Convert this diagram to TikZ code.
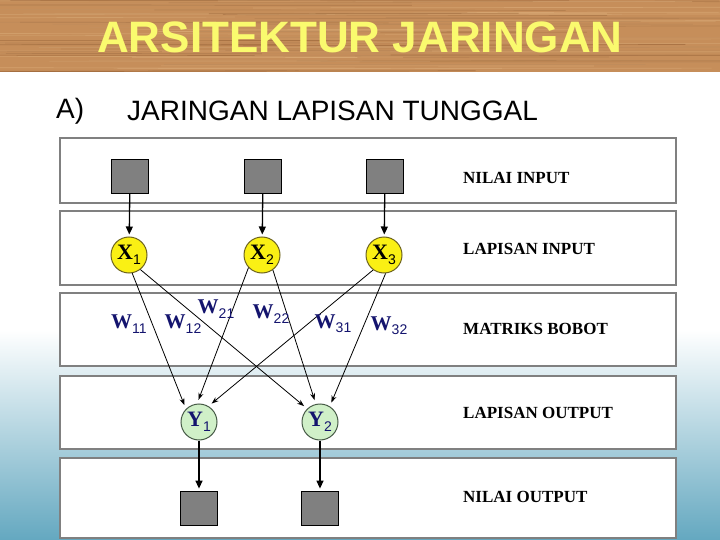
\documentclass[tikz,border=0pt]{standalone}
\usepackage{fontspec}
\setmainfont{Liberation Serif}
\newfontfamily\arialfont{Liberation Sans}
\usetikzlibrary{arrows.meta, positioning, calc}

\definecolor{wood}{RGB}{198,142,90}
\definecolor{woodlight}{RGB}{226,180,128}
\definecolor{wooddark}{RGB}{150,96,52}
\definecolor{titleyellow}{RGB}{250,250,110}
\definecolor{sky}{RGB}{100,168,192}
\definecolor{navy}{RGB}{20,20,110}
\definecolor{boxgray}{RGB}{128,128,128}
\definecolor{xfill}{RGB}{250,240,20}
\definecolor{xline}{RGB}{110,100,30}
\definecolor{yfill}{RGB}{208,240,200}
\definecolor{yline}{RGB}{70,90,70}

% letter with a sans subscript, as on the slide
\newcommand{\sublbl}[2]{#1\raisebox{-0.45ex}{\arialfont\mdseries\fontsize{14}{14}\selectfont#2}}

\begin{document}
\begin{tikzpicture}[
    x=1pt, y=-1pt,
    >=Stealth,
    panel/.style={draw=boxgray, line width=1.5pt, fill=white},
    layer/.style={anchor=west, inner sep=0pt, font=\bfseries\fontsize{17}{17}\selectfont},
    valbox/.style={rectangle, draw=black, fill=boxgray, line width=0.8pt, minimum width=37pt, minimum height=34pt, inner sep=0pt},
    xnode/.style={circle, draw=xline, fill=xfill, line width=1pt, minimum size=36pt, inner sep=0pt, font=\bfseries\fontsize{22}{22}\selectfont},
    ynode/.style={circle, draw=yline, fill=yfill, line width=1pt, minimum size=36pt, inner sep=0pt, text=navy, font=\bfseries\fontsize{22}{22}\selectfont},
    wlbl/.style={inner sep=0pt, text=navy, font=\bfseries\fontsize{21}{21}\selectfont},
    feed/.style={line width=1.3pt, -{Triangle[length=8pt,width=7pt]}, shorten >=2pt},
    edge/.style={line width=0.8pt, -{Stealth[length=7pt,width=5pt]}, shorten >=4pt},
]
    \useasboundingbox (0,0) rectangle (720,540);

    % background
    \fill[white] (0,0) rectangle (720,540);
    \shade[top color=white, bottom color=sky] (0,330) rectangle (720,540);

    % wooden header
    \fill[wood] (0,0) rectangle (720,72);
    \pgfmathsetseed{11}
    \foreach \i in {1,...,90}{
        \pgfmathsetmacro{\yy}{rnd*72}
        \pgfmathsetmacro{\xa}{rnd*620-100}
        \pgfmathsetmacro{\mx}{int(rnd*100)}
        \draw[woodlight!\mx!wooddark, line width=0.7pt, opacity=0.6] (\xa,\yy) -- ++(rnd*400+200, rnd*2-1);
    }
    \node[text=titleyellow, font=\arialfont\bfseries\fontsize{44}{44}\selectfont] (title) at (360,37) {ARSITEKTUR JARINGAN};

    \node[anchor=west, inner sep=0pt, font=\arialfont\fontsize{28}{28}\selectfont] (sec) at (56,111) {A)};
    \node[anchor=west, inner sep=0pt, font=\arialfont\fontsize{28}{28}\selectfont] (subtitle) at (127,111) {JARINGAN LAPISAN TUNGGAL};

    % panels
    \foreach \t/\b in {138/203, 211/285, 293/366, 376/449, 458/538}
        \draw[panel] (60,\t) rectangle (676,\b);

    \node[layer] (lab1) at (463,178) {NILAI INPUT};
    \node[layer] (lab2) at (463,249) {LAPISAN INPUT};
    \node[layer] (lab3) at (463,329) {MATRIKS BOBOT};
    \node[layer] (lab4) at (463,413) {LAPISAN OUTPUT};
    \node[layer] (lab5) at (463,497) {NILAI OUTPUT};

    % input values and input layer
    \node[valbox] (in1) at (130,176) {};
    \node[valbox] (in2) at (263,176) {};
    \node[valbox] (in3) at (385,176) {};

    \node[xnode] (X1) at (129,255) {\sublbl{X}{1}};
    \node[xnode] (X2) at (262,255) {\sublbl{X}{2}};
    \node[xnode] (X3) at (384,255) {\sublbl{X}{3}};

    % output layer and output values
    \node[ynode] (Y1) at (199,422) {\sublbl{Y}{1}};
    \node[ynode] (Y2) at (320,422) {\sublbl{Y}{2}};

    \node[valbox] (out1) at (199,508) {};
    \node[valbox] (out2) at (320,508) {};

    \draw[feed] (in1) -- (X1);
    \draw[feed] (in2) -- (X2);
    \draw[feed] (in3) -- (X3);
    \draw[feed] (Y1) -- (out1);
    \draw[feed] (Y2) -- (out2);

    % weights
    \foreach \s/\a/\t/\b in {X1/-80/Y1/135, X1/-52/Y2/134, X2/-137/Y1/96, X2/-54/Y2/103, X3/-126/Y1/59, X3/-85/Y2/58}
        \draw[edge] (\s.\a) -- (\t.\b);

    \node[wlbl] (w11) at (129,324) {\sublbl{W}{11}};
    \node[wlbl] (w12) at (183,324) {\sublbl{W}{12}};
    \node[wlbl] (w21) at (216,309) {\sublbl{W}{21}};
    \node[wlbl] (w22) at (271,314) {\sublbl{W}{22}};
    \node[wlbl] (w31) at (333,324) {\sublbl{W}{31}};
    \node[wlbl] (w32) at (389,326) {\sublbl{W}{32}};
\end{tikzpicture}
\end{document}
